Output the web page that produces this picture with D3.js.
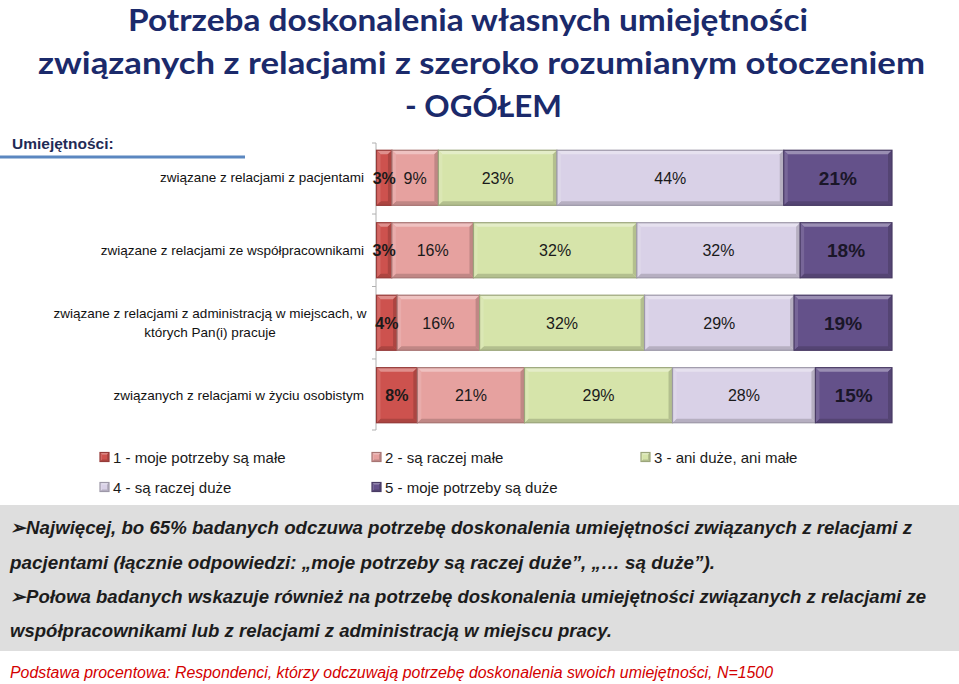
<!DOCTYPE html>
<html><head><meta charset="utf-8">
<script src="https://cdn.jsdelivr.net/npm/d3@7/dist/d3.min.js"></script>
<style>
html,body{margin:0;padding:0;background:#fff;}
svg{display:block;}
</style></head>
<body>
<svg id="chart" width="959" height="684"></svg>
<script>
// ---------- data ----------
const titleLines = ["Potrzeba doskonalenia własnych umiejętności",
                    "związanych z relacjami z szeroko rozumianym otoczeniem",
                    "- OGÓŁEM"];
const categories = ["związane z relacjami z pacjentami",
                    "związane z relacjami ze współpracownikami",
                    "związane z relacjami z administracją w miejscach, w\nktórych Pan(i) pracuje",
                    "związanych z relacjami w życiu osobistym"];
const seriesNames = ["1 - moje potrzeby są małe", "2 - są raczej małe", "3 - ani duże, ani małe",
                     "4 - są raczej duże", "5 - moje potrzeby są duże"];
const s1 = [3, 3, 4, 8];
const s2 = [9, 16, 16, 21];
const s3 = [23, 32, 32, 29];
const s4 = [44, 32, 29, 28];
const s5 = [21, 18, 19, 15];
const seriesValues = [s1, s2, s3, s4, s5];
const colors = ["#cd524e", "#e6a19f", "#d6e4aa", "#d9d1e7", "#64518a"];
const notes = [
  "➢Najwięcej, bo 65% badanych odczuwa potrzebę doskonalenia umiejętności związanych z relacjami  z",
  "pacjentami (łącznie odpowiedzi: „moje potrzeby są raczej duże”, „… są duże”).",
  "➢Połowa badanych wskazuje również na potrzebę doskonalenia umiejętności związanych z relacjami ze",
  "współpracownikami lub z relacjami z administracją w miejscu pracy."
];
const footer = "Podstawa procentowa: Respondenci, którzy odczuwają potrzebę doskonalenia swoich umiejętności, N=1500";

// ---------- layout ----------
const svg = d3.select("#chart");

// title
const titleX = [[128, 680], [38, 887], [405, 157]];
const titleY = [31, 74, 117];
svg.append("g").selectAll("text").data(titleLines).join("text")
  .attr("x", (d, i) => titleX[i][0]).attr("y", (d, i) => titleY[i])
  .attr("textLength", (d, i) => titleX[i][1]).attr("lengthAdjust", "spacingAndGlyphs")
  .attr("font-family", "Lato, 'Open Sans', sans-serif").attr("font-size", 30).attr("font-weight", "bold")
  .attr("fill", "#1b2a6b").text(d => d);

// Umiejętności header
svg.append("text").attr("x", 12).attr("y", 149)
  .attr("font-family", "'Liberation Sans', Arial, sans-serif").attr("font-size", 15.5).attr("font-weight", "bold")
  .attr("fill", "#1f2b55").text("Umiejętności:");
svg.append("rect").attr("x", 0).attr("y", 155.5).attr("width", 245).attr("height", 3).attr("fill", "#5b87c0");

// scales
const rows = categories.map((c, i) => {
  const o = {cat: c};
  seriesNames.forEach((s, j) => o[s] = seriesValues[j][i]);
  return o;
});
const stack = d3.stack().keys(seriesNames).offset(d3.stackOffsetExpand);
const stacked = stack(rows);

const x = d3.scaleLinear().domain([0, 1]).range([376.5, 892]);
const y = d3.scaleBand().domain(categories).range([143, 430]).paddingInner(0.24).paddingOuter(0.1);

// axis
const axisG = svg.append("g");
axisG.append("line").attr("x1", 376).attr("x2", 376).attr("y1", 143).attr("y2", 430)
  .attr("stroke", "#b0b0b0").attr("stroke-width", 1);
const bounds = [143].concat(categories.map(c => y(c) + y.bandwidth() + y.step() * y.paddingInner() / 2));
bounds[bounds.length - 1] = 430;
axisG.selectAll(".tk").data(bounds).join("line")
  .attr("x1", 372).attr("x2", 376).attr("y1", d => d).attr("y2", d => d)
  .attr("stroke", "#b0b0b0");

// category labels
const labG = svg.append("g");
categories.forEach(c => {
  const lines = c.split("\n");
  const cy = y(c) + y.bandwidth() / 2;
  const t = labG.append("text")
    .attr("font-family", "'Liberation Sans', Arial, sans-serif").attr("font-size", 13.5).attr("fill", "#111");
  if (lines.length === 1) {
    t.attr("x", 364).attr("y", cy + 4.5).attr("text-anchor", "end").text(lines[0]);
  } else {
    t.attr("x", 210).attr("text-anchor", "middle");
    lines.forEach((l, k) => t.append("tspan").attr("x", 210).attr("y", cy - 5 + k * 19.5).text(l));
  }
});

// bevel drawing
function bevel(g, x0, y0, w, h, col, b) {
  const c = d3.color(col);
  const light = d3.interpolateRgb(col, "#fff")(0.35);
  const dark = c.darker(0.9).formatHex();
  const dark2 = c.darker(0.5).formatHex();
  const x1 = x0 + w, y1 = y0 + h;
  g.append("rect").attr("x", x0).attr("y", y0).attr("width", w).attr("height", h).attr("fill", col);
  const poly = (pts, f) => g.append("polygon").attr("points", pts.map(p => p.join(",")).join(" ")).attr("fill", f);
  poly([[x0, y0], [x1, y0], [x1 - b, y0 + b], [x0 + b, y0 + b]], light);
  poly([[x0, y1], [x1, y1], [x1 - b, y1 - b], [x0 + b, y1 - b]], dark2);
  poly([[x0, y0], [x0 + b, y0 + b], [x0 + b, y1 - b], [x0, y1]], d3.interpolateRgb(col, "#fff")(0.12));
  poly([[x1, y0], [x1 - b, y0 + b], [x1 - b, y1 - b], [x1, y1]], dark2);
  g.append("rect").attr("x", x0).attr("y", y0).attr("width", w).attr("height", h)
    .attr("fill", "none").attr("stroke", dark).attr("stroke-width", 1.2);
}

// bars
const barG = svg.append("g");
stacked.forEach((ser, si) => {
  ser.forEach((d, ri) => {
    const cat = categories[ri];
    const x0 = x(d[0]), x1 = x(d[1]);
    const g = barG.append("g");
    bevel(g, x0, y(cat), x1 - x0, y.bandwidth(), colors[si], 4);
  });
});
// bar labels
stacked.forEach((ser, si) => {
  ser.forEach((d, ri) => {
    const cat = categories[ri];
    const cx = (x(d[0]) + x(d[1])) / 2;
    const bold = si === 0 || si === 4;
    barG.append("text").attr("x", cx).attr("y", y(cat) + y.bandwidth() / 2 + (si === 4 ? 7 : 6))
      .attr("text-anchor", "middle")
      .attr("font-family", "'Liberation Sans', Arial, sans-serif")
      .attr("font-size", si === 4 ? 19 : 16)
      .attr("font-weight", bold ? "bold" : "normal")
      .attr("fill", si === 4 ? "#1a1628" : "#1a1a1a")
      .text(seriesValues[si][ri] + "%");
  });
});

// legend
const legPos = [[100, 457], [372, 457], [641, 457], [100, 487], [372, 487]];
const legG = svg.append("g");
seriesNames.forEach((s, i) => {
  const [lx, ly] = legPos[i];
  bevel(legG.append("g"), lx, ly - 4.5, 9, 9, colors[i], 2);
  legG.append("text").attr("x", lx + 13).attr("y", ly + 5.5)
    .attr("font-family", "'Liberation Sans', Arial, sans-serif").attr("font-size", 15)
    .attr("fill", "#1a1a1a").text(s);
});

// notes box
svg.append("rect").attr("x", 0).attr("y", 505).attr("width", 959).attr("height", 146).attr("fill", "#dedede");
const noteW = [902, 705, 916, 602];
const noteY = [534, 569, 603, 637];
svg.append("g").selectAll("text").data(notes).join("text")
  .attr("x", 10).attr("y", (d, i) => noteY[i])
  .attr("textLength", (d, i) => noteW[i]).attr("lengthAdjust", "spacingAndGlyphs")
  .attr("font-family", "'Liberation Sans Narrow', 'Arial Narrow', 'Liberation Sans', sans-serif")
  .attr("font-size", 18.5).attr("font-style", "italic").attr("font-weight", "bold")
  .attr("fill", "#1c1c1c").text(d => d);

svg.append("text").attr("x", 10).attr("y", 678).attr("textLength", 763).attr("lengthAdjust", "spacingAndGlyphs")
  .attr("font-family", "'Liberation Sans Narrow', 'Arial Narrow', 'Liberation Sans', sans-serif")
  .attr("font-size", 16).attr("font-style", "italic").attr("fill", "#d40000").text(footer);
</script>
</body></html>
